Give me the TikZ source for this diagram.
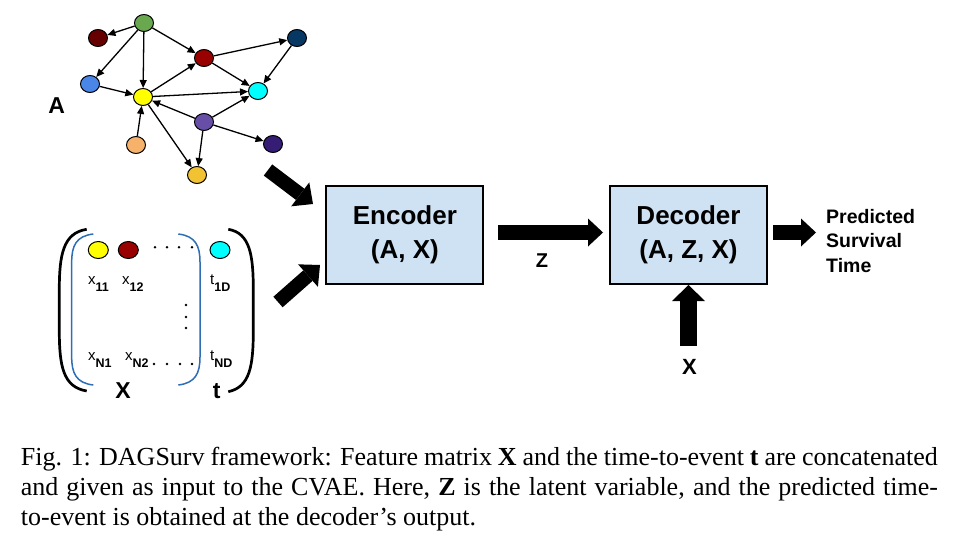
\documentclass[tikz,border=0pt]{standalone}
\usepackage{fontspec}
\setmainfont{Liberation Serif}
\newfontfamily\arial{Liberation Sans}
\usetikzlibrary{arrows.meta,shapes.geometric,calc}
\definecolor{cgreen}{HTML}{6AA84F}
\definecolor{cdred}{HTML}{660000}
\definecolor{cblue}{HTML}{4A86E8}
\definecolor{cyel}{HTML}{FFFF00}
\definecolor{cred}{HTML}{990000}
\definecolor{cnavy}{HTML}{073763}
\definecolor{ccyan}{HTML}{00FFFF}
\definecolor{cpurp}{HTML}{674EA7}
\definecolor{cdpurp}{HTML}{351C75}
\definecolor{corange}{HTML}{F6B26B}
\definecolor{cgold}{HTML}{F1C232}
\definecolor{boxblue}{HTML}{CFE2F3}
\definecolor{brblue}{HTML}{2F6EB5}
\begin{document}
\begin{tikzpicture}[x=1pt,y=-1pt,
  gnode/.style={ellipse, draw=black, line width=1pt, minimum width=19pt, minimum height=17pt, inner sep=0pt},
  gedge/.style={line width=1.3pt, -{Triangle[length=8pt,width=7pt]}},
  cbox/.style={draw=black, line width=2pt, fill=boxblue, minimum width=157pt, minimum height=98pt, align=center, inner sep=0pt, font=\arial\bfseries\fontsize{26}{34}\selectfont},
  fat/.style={line width=15pt, -{Triangle[length=15pt,width=28pt,line width=0pt 0]}},
  fatup/.style={line width=16.5pt, -{Triangle[length=16pt,width=33pt,line width=0pt 0]}},
  fatd/.style={line width=14pt, -{Triangle[length=16pt,width=30pt,line width=0pt 0]}},
  lab/.style={font=\arial\bfseries\fontsize{23}{23}\selectfont, inner sep=0pt},
  ent/.style={font=\arial\fontsize{15}{15}\selectfont, inner sep=0pt, anchor=base west},
  mdot/.style={fill=black, draw=none},
  captext/.style={font=\fontsize{26}{30}\selectfont, inner sep=0pt, anchor=base west}
]
\useasboundingbox (0,0) rectangle (956,544);
\fill[white] (0,0) rectangle (956,544);

% ---------- graph A ----------
\node[gnode, fill=cgreen] (g) at (144,23) {};
\node[gnode, fill=cdred] (dr) at (98,38) {};
\node[gnode, fill=cblue] (bl) at (90,84) {};
\node[gnode, fill=cyel] (ye) at (143,97) {};
\node[gnode, fill=cred] (rd) at (204,58) {};
\node[gnode, fill=cnavy] (nv) at (297,38) {};
\node[gnode, fill=ccyan] (cy) at (258,91) {};
\node[gnode, fill=cpurp] (pu) at (204,122) {};
\node[gnode, fill=cdpurp] (dp) at (273,144) {};
\node[gnode, fill=corange] (og) at (136,145) {};
\node[gnode, fill=cgold] (gd) at (197,175) {};
\node[lab, anchor=base] (alab) at (56.7,113.3) {A};

\draw[gedge] (g) -- (dr);
\draw[gedge] (g) -- (bl);
\draw[gedge] (g) -- (ye);
\draw[gedge] (g) -- (rd);
\draw[gedge] (bl) -- (ye);
\draw[gedge] (ye) -- (rd);
\draw[gedge] (rd) -- (nv);
\draw[gedge] (rd) -- (cy);
\draw[gedge] (nv) -- (cy);
\draw[gedge] (ye) -- (cy);
\draw[gedge] (pu) -- (ye);
\draw[gedge] (pu) -- (cy);
\draw[gedge] (pu) -- (dp);
\draw[gedge] (pu) -- (gd);
\draw[gedge] (og) -- (ye);
\draw[gedge] (ye) -- (gd);

% ---------- matrix ----------
\draw[line width=2.7pt, black] (86.7,229.3) .. controls (63,233) and (59.3,255) .. (59.3,290) -- (59.3,330) .. controls (59.3,366) and (63,387) .. (86.7,391);
\draw[line width=2.7pt, black] (228.3,229.3) .. controls (250,233) and (253.3,255) .. (253.3,290) -- (253.3,330) .. controls (253.3,366) and (250,387) .. (228.3,391.7);
\draw[line width=1.5pt, brblue] (93.3,234) .. controls (76,236) and (71.7,246) .. (71.7,262) -- (71.7,357) .. controls (71.7,373) and (76,383) .. (93.3,385);
\draw[line width=1.5pt, brblue] (178.3,234) .. controls (195.6,236) and (200,246) .. (200,262) -- (200,357) .. controls (200,373) and (195.6,383) .. (178.3,385);

\node[gnode, fill=cyel, minimum width=20pt] (m1) at (98.3,250) {};
\node[gnode, fill=cred, minimum width=20pt] (m2) at (128.3,250) {};
\node[gnode, fill=ccyan, minimum width=20pt] (m3) at (220,250) {};
\foreach \xx in {155,167,179,192} \fill[mdot] (\xx,247.3) circle (1.4pt);
\foreach \xx in {154,167,180,192} \fill[mdot] (\xx,364) circle (1.4pt);
\foreach \yy in {305,317,328} \fill[mdot] (186,\yy) circle (1.4pt);

\newcommand{\msub}[1]{\raisebox{-7pt}{\fontsize{12.5}{12.5}\selectfont\bfseries #1}}
\node[ent] (x11) at (88,284) {x\msub{11}};
\node[ent] (x12) at (122,284) {x\msub{12}};
\node[ent] (t1d) at (210,284) {t\msub{1D}};
\node[ent] (xn1) at (88,360) {x\msub{N1}};
\node[ent] (xn2) at (125,360) {x\msub{N2}};
\node[ent] (tnd) at (210,360) {t\msub{ND}};
\node[lab, anchor=base] (xlab) at (123,398) {X};
\node[lab, anchor=base] (tlab) at (216.7,398) {t};

% ---------- encoder / decoder ----------
\node[cbox] (enc) at (404.9,235) {Encoder\\(A, X)};
\node[cbox] (dec) at (688.5,235) {Decoder\\(A, Z, X)};

\coordinate (ina) at (268,170);
\coordinate (inatip) at (313,204);
\coordinate (inb) at (278,302);
\coordinate (inbtip) at (320,265);
\draw[fatd] (ina) -- (inatip);
\draw[fatd] (inb) -- (inbtip);

\draw[fat, shorten <=13.7pt, shorten >=6pt] ($(enc.east)+(0,-2.5)$) -- ($(dec.west)+(0,-2.5)$);
\node[font=\arial\bfseries\fontsize{20}{20}\selectfont, inner sep=0pt, anchor=base] (zlab) at (542,267) {Z};

\coordinate (outtip) at (816,232.5);
\draw[fat, shorten <=5pt] ($(dec.east)+(0,-2.5)$) -- (outtip);
\node[font=\arial\bfseries\fontsize{19.5}{24.5}\selectfont, inner sep=0pt, anchor=north west, align=left] (pred) at (826,208.8) {Predicted\\Survival\\Time};

\coordinate (xin) at (688.5,346);
\draw[fatup] (xin) -- (dec.south);
\node[font=\arial\bfseries\fontsize{22}{22}\selectfont, inner sep=0pt, anchor=base] (xdlab) at (689.5,374) {X};

% ---------- caption ----------
\node[captext] (c1) at (20.7,465) {\makebox[917pt][s]{Fig. 1: DAGSurv framework: Feature matrix \textbf{X} and the time-to-event \textbf{t} are concatenated}};
\node[captext] (c2) at (20.7,495.5) {\makebox[917pt][s]{and given as input to the CVAE. Here, \textbf{Z} is the latent variable, and the predicted time-}};
\node[captext] (c3) at (20.7,525.5) {to-event is obtained at the decoder’s output.};
\end{tikzpicture}
\end{document}
